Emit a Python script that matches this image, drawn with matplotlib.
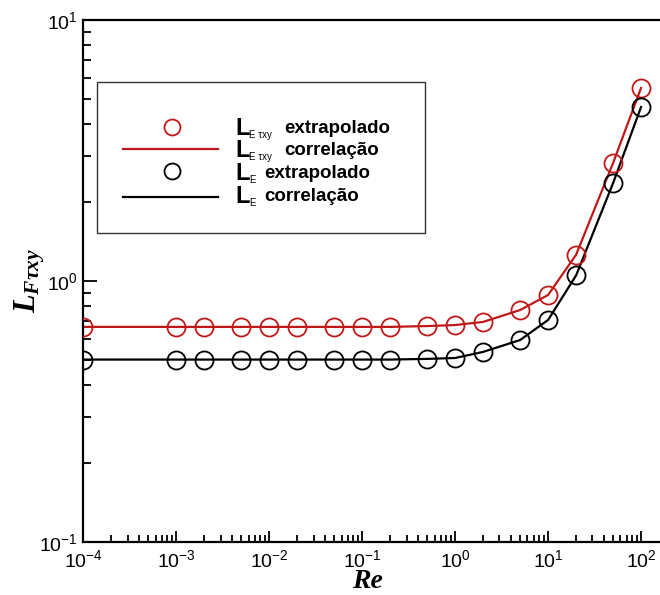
import matplotlib
matplotlib.use("Agg")
import matplotlib.pyplot as plt
from matplotlib.lines import Line2D
from matplotlib.patches import Rectangle

plt.rcParams['font.family'] = ['Liberation Sans', 'DejaVu Sans']
plt.rcParams['mathtext.fontset'] = 'custom'
plt.rcParams['mathtext.rm'] = 'Liberation Sans'
plt.rcParams['mathtext.it'] = 'Liberation Serif:italic:bold'
plt.rcParams['mathtext.bf'] = 'Liberation Sans:bold'
plt.rcParams['axes.unicode_minus'] = False

# ---- data ----
re_vals = [1e-4, 1e-3, 2e-3, 5e-3, 1e-2, 2e-2, 5e-2, 0.1, 0.2, 0.5, 1, 2, 5, 10, 20, 50, 100]
l_ftxy = [0.667, 0.667, 0.667, 0.667, 0.667, 0.667, 0.667, 0.667, 0.667, 0.672, 0.678,
          0.697, 0.774, 0.884, 1.26, 2.83, 5.49]
l_e = [0.50, 0.50, 0.50, 0.50, 0.50, 0.50, 0.50, 0.50, 0.50, 0.503, 0.507,
       0.535, 0.594, 0.709, 1.05, 2.37, 4.64]
legend_texts = ["extrapolado", "correlação", "extrapolado", "correlação"]

RED = '#C01818'
W, H = 660, 595
fig = plt.figure(figsize=(W / 100, H / 100), dpi=100)

x0, x1, ytop, ybot = 83.3, 660, 20, 542
ax = fig.add_axes([x0 / W, (H - ybot) / H, (x1 - x0) / W, (ybot - ytop) / H])
ax.set_xscale('log')
ax.set_yscale('log')
ax.set_xlim(1e-4, 10 ** 6.204 * 1e-4)
ax.set_ylim(0.1, 10)

ax.plot(re_vals, l_ftxy, color=RED, lw=1.6, zorder=2)
ax.plot(re_vals, l_ftxy, ls='none', marker='o', ms=13, mfc='none', mec=RED, mew=1.3, zorder=3)
ax.plot(re_vals, l_e, color='black', lw=1.6, zorder=2)
ax.plot(re_vals, l_e, ls='none', marker='o', ms=13, mfc='none', mec='black', mew=1.3, zorder=3)

for s in ['left', 'bottom', 'top']:
    ax.spines[s].set_linewidth(1.6)
ax.spines['right'].set_visible(False)

ax.tick_params(axis='both', which='both', direction='in', top=False, right=False,
               labelsize=14, width=1.3)
ax.tick_params(axis='x', which='major', length=8, pad=5)
ax.tick_params(axis='x', which='minor', length=5)
ax.tick_params(axis='y', which='major', length=10, pad=4)
ax.tick_params(axis='y', which='minor', length=6)
ax.set_xticks([1e-4, 1e-3, 1e-2, 1e-1, 1, 10, 100])
ax.set_yticks([0.1, 1, 10])

# axis titles
fig.text(367 / W, 1 - 581 / H, 'Re', fontsize=20, family='Liberation Serif',
         fontweight='bold', style='italic', ha='center', va='center')
fig.text(30 / W, 1 - 281 / H, r'$L_{F\tau xy}$', fontsize=22, rotation=90,
         ha='center', va='center')

# legend box (drawn in figure pixels)
def fx(px):
    return px / W

def fy(py):
    return 1 - py / H

fig.add_artist(Rectangle((fx(97), fy(233)), fx(425) - fx(97), fy(82) - fy(233),
                         transform=fig.transFigure, fill=False, ec='#333333', lw=1.0))
fig.add_artist(Line2D([fx(172)], [fy(127)], transform=fig.transFigure, ls='none',
                      marker='o', ms=11.5, mfc='none', mec=RED, mew=1.3))
fig.add_artist(Line2D([fx(123), fx(218)], [fy(149), fy(149)], transform=fig.transFigure,
                      color=RED, lw=1.6))
fig.add_artist(Line2D([fx(172)], [fy(171)], transform=fig.transFigure, ls='none',
                      marker='o', ms=11.5, mfc='none', mec='black', mew=1.3))
fig.add_artist(Line2D([fx(123), fx(218)], [fy(197), fy(197)], transform=fig.transFigure,
                      color='black', lw=1.6))

rows = [(135, 'E τxy', 284), (157, 'E τxy', 284), (180, 'E', 264), (203, 'E', 264)]
for (base, sub, tx), txt in zip(rows, legend_texts):
    fig.text(fx(235), fy(base), 'L', fontsize=17, fontweight='bold', va='baseline', ha='left')
    fig.text(fx(249), fy(base + 3), sub, fontsize=7, va='baseline', ha='left')
    fig.text(fx(tx), fy(base - 2), txt, fontsize=13.5, fontweight='bold', va='baseline', ha='left')

fig.savefig('out.png', dpi=100)
